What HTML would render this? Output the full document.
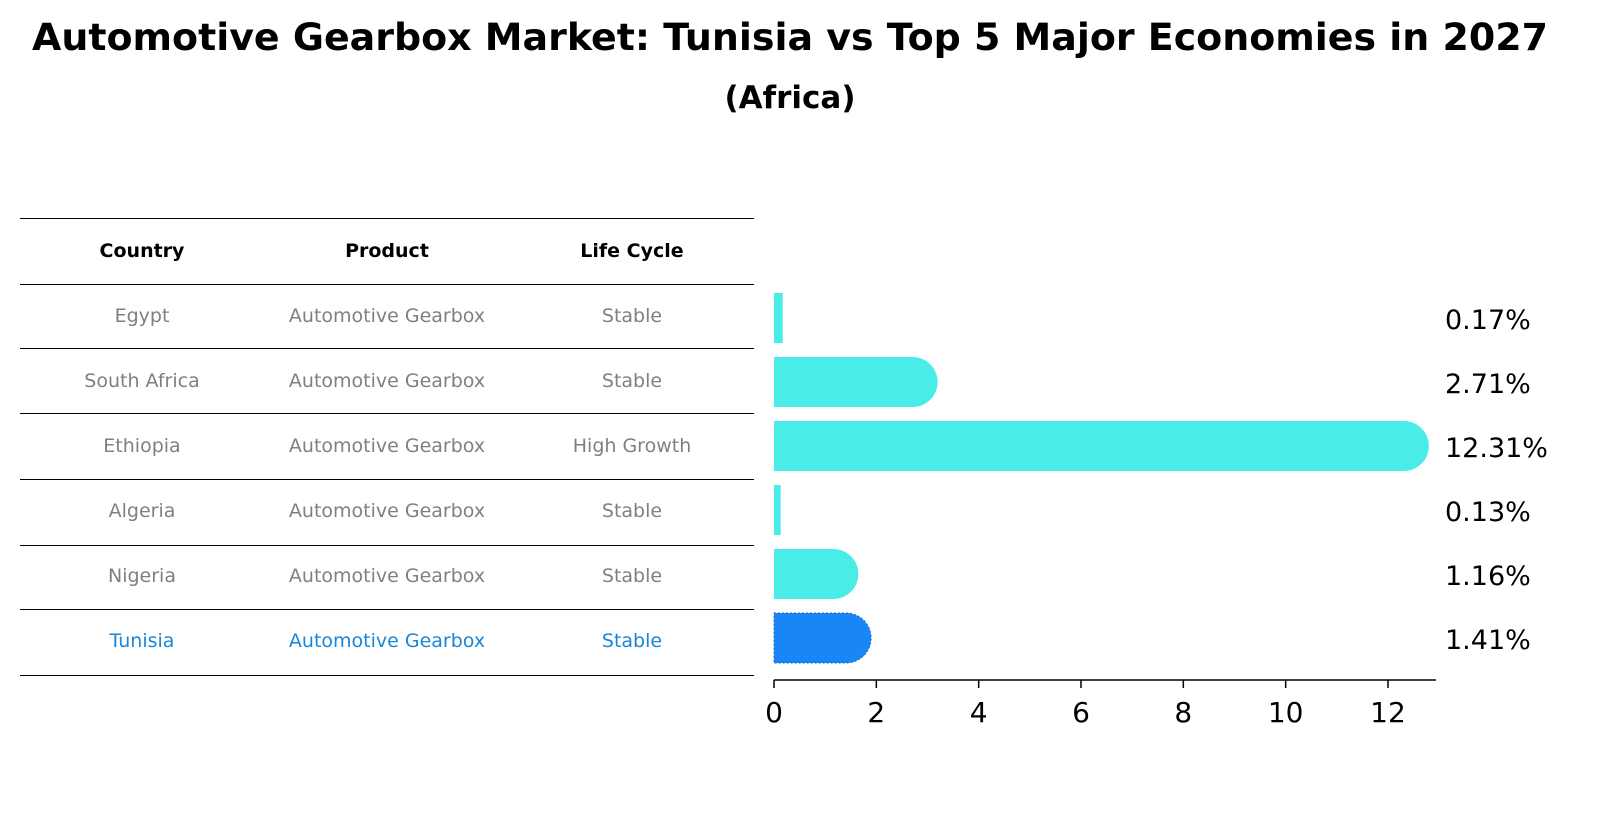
<!DOCTYPE html>
<html><head><meta charset="utf-8"><style>
body{margin:0;background:#fff;font-family:"Liberation Sans","DejaVu Sans",sans-serif}
</style></head><body>
<svg width="1604" height="823" viewBox="0 0 1604 823" xmlns="http://www.w3.org/2000/svg" font-family="'DejaVu Sans','Liberation Sans',sans-serif">
<text x="790" y="50" text-anchor="middle" font-size="37" font-weight="bold" textLength="1516" lengthAdjust="spacingAndGlyphs">Automotive Gearbox Market: Tunisia vs Top 5 Major Economies in 2027</text>
<text x="790" y="108" text-anchor="middle" font-size="31" font-weight="bold">(Africa)</text>
<g id="table"></g>
<g id="chart"></g>
</svg>
<script>
const countries=["Egypt","South Africa","Ethiopia","Algeria","Nigeria","Tunisia"];
const products=["Automotive Gearbox","Automotive Gearbox","Automotive Gearbox","Automotive Gearbox","Automotive Gearbox","Automotive Gearbox"];
const lifeCycles=["Stable","Stable","High Growth","Stable","Stable","Stable"];
const values=[0.17,2.71,12.31,0.13,1.16,1.41];
const valueLabels=["0.17%","2.71%","12.31%","0.13%","1.16%","1.41%"];
const xTicks=[0,2,4,6,8,10,12];
const NS="http://www.w3.org/2000/svg";
function mk(t,a,p){const e=document.createElementNS(NS,t);for(const k in a)e.setAttribute(k,a[k]);p.appendChild(e);return e;}
const tbl=document.getElementById('table'),ch=document.getElementById('chart');
const lineYs=[218,284,348,413,479,545,609,675];
lineYs.forEach(y=>{const l=mk('line',{x1:20,x2:754,y1:y+0.5,y2:y+0.5,stroke:'#000','stroke-width':1},tbl);

});
const colX=[142,387,632];
["Country","Product","Life Cycle"].forEach((h,i)=>{const t=mk('text',{x:colX[i],y:257,'text-anchor':'middle','font-size':19,'font-weight':'bold'},tbl);t.textContent=h;

});
const rowY=i=>316+i*65;
countries.forEach((c,i)=>{const col=c==="Tunisia"?'#1a86d9':'#808080';
[c,products[i],lifeCycles[i]].forEach((s,j)=>{const t=mk('text',{x:colX[j],y:rowY(i)+6,'text-anchor':'middle','font-size':19,fill:col},tbl);t.textContent=s;

});});
const x0=774,sc=(1388-774)/12;const xs=v=>x0+v*sc;
const barY=i=>318+i*64,bh=50,r=25;
values.forEach((v,i)=>{const w=xs(v)-x0,yc=barY(i),top=yc-bh/2;
const fill=countries[i]==="Tunisia"?'#1a86f5':'#4aece8';
let d;if(w>r){d=`M${x0},${top}H${x0+w}A${r},${r} 0 0 1 ${x0+w},${top+bh}H${x0}Z`;}else{d=`M${x0},${top}H${x0+w}V${top+bh}H${x0}Z`;}
const p=mk('path',{d:d,fill:fill},ch);
if(countries[i]==="Tunisia"){p.setAttribute('stroke','#1a6fd0');p.setAttribute('stroke-dasharray','2,2');}


const t=mk('text',{x:1445,y:yc+11,'font-size':27},ch);t.textContent=valueLabels[i];

});
const ax=mk('line',{x1:x0,x2:1436,y1:680,y2:680,stroke:'#000','stroke-width':1.5},ch);


xTicks.forEach(v=>{const tk=mk('line',{x1:xs(v),x2:xs(v),y1:680,y2:688,stroke:'#000','stroke-width':1.5},ch);


const t=mk('text',{x:xs(v),y:722,'text-anchor':'middle','font-size':28},ch);t.textContent=v;

});
</script>
</body></html>
